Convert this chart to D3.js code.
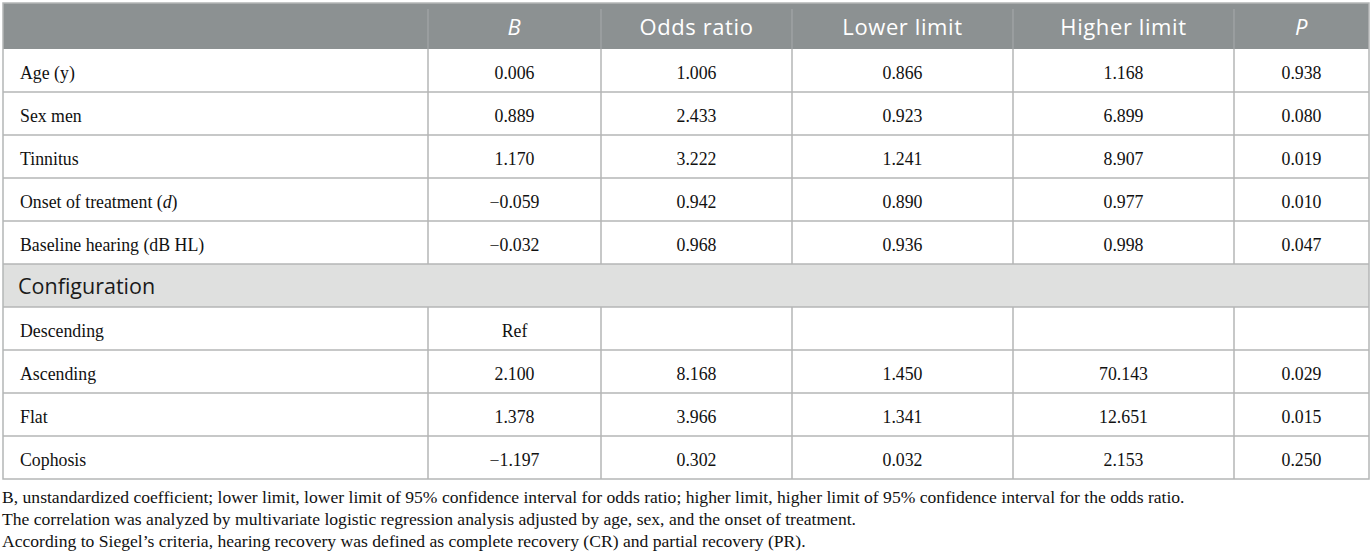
<!DOCTYPE html>
<html><head><meta charset="utf-8">
<script src="https://cdn.jsdelivr.net/npm/d3@7"></script>
<style>
html,body{margin:0;padding:0;background:#fff;}
svg{display:block;}
</style></head>
<body><svg id="c" width="1372" height="560"></svg>
<script>
// ---- data ----
const headers = ["", "B", "Odds ratio", "Lower limit", "Higher limit", "P"];
const rowLabels = ["Age (y)", "Sex men", "Tinnitus", "Onset of treatment (d)", "Baseline hearing (dB HL)",
  "Configuration", "Descending", "Ascending", "Flat", "Cophosis"];
const coefB =       ["0.006", "0.889", "1.170", "\u22120.059", "\u22120.032", null, "Ref", "2.100", "1.378", "\u22121.197"];
const oddsRatio =   ["1.006", "2.433", "3.222", "0.942", "0.968", null, "", "8.168", "3.966", "0.302"];
const lowerLimit =  ["0.866", "0.923", "1.241", "0.890", "0.936", null, "", "1.450", "1.341", "0.032"];
const higherLimit = ["1.168", "6.899", "8.907", "0.977", "0.998", null, "", "70.143", "12.651", "2.153"];
const pValue =      ["0.938", "0.080", "0.019", "0.010", "0.047", null, "", "0.029", "0.015", "0.250"];
const footnotes = [
  "B, unstandardized coefficient; lower limit, lower limit of 95% confidence interval for odds ratio; higher limit, higher limit of 95% confidence interval for the odds ratio.",
  "The correlation was analyzed by multivariate logistic regression analysis adjusted by age, sex, and the onset of treatment.",
  "According to Siegel\u2019s criteria, hearing recovery was defined as complete recovery (CR) and partial recovery (PR)."
];

// ---- layout ----
const svg = d3.select("#c");
const colEdges = [3, 428, 601, 792, 1013, 1234, 1369];
const colX = d3.scaleOrdinal().domain(d3.range(6)).range(colEdges.slice(0, 6));
const colW = i => colEdges[i + 1] - colEdges[i];
const headTop = 3, headBottom = 49, rowH = 43;
const rowY = d3.scaleBand().domain(d3.range(rowLabels.length))
  .range([headBottom, headBottom + rowH * rowLabels.length]).padding(0);
const tableBottom = headBottom + rowH * rowLabels.length;
const sans = "'Open Sans','Noto Sans',sans-serif";
const serif = "'Liberation Serif','Times New Roman',serif";
const lineCol = "#b4b6b6";
const bodySize = 17.8;

// header bg
svg.append("rect").attr("x", colEdges[0]).attr("y", headTop)
  .attr("width", colEdges[6] - colEdges[0]).attr("height", headBottom - headTop).attr("fill", "#8c9192");

// header dividers
svg.selectAll("line.hdiv").data(d3.range(1, 6)).join("line")
  .attr("x1", d => colEdges[d]).attr("x2", d => colEdges[d])
  .attr("y1", headTop + 6).attr("y2", headBottom)
  .attr("stroke", "#a3a7a8").attr("stroke-width", 1.2);

// header text
svg.selectAll("text.h").data(headers).join("text")
  .attr("x", (d, i) => colX(i) + colW(i) / 2).attr("y", 35)
  .attr("text-anchor", "middle").attr("fill", "#fff")
  .attr("font-family", sans).attr("font-size", 22).attr("letter-spacing", 0.6)
  .attr("font-style", d => (d === "B" || d === "P") ? "italic" : "normal")
  .text(d => d);

const cols = [coefB, oddsRatio, lowerLimit, higherLimit, pValue];

rowLabels.forEach((lab, r) => {
  const y = rowY(r);
  const isGroup = coefB[r] === null;
  if (isGroup) {
    svg.append("rect").attr("x", colEdges[0]).attr("y", y)
      .attr("width", colEdges[6] - colEdges[0]).attr("height", rowH).attr("fill", "#dfe0df");
    svg.append("text").attr("x", 18).attr("y", y + rowH / 2 + 8.5)
      .attr("font-family", sans).attr("font-size", 21.5).attr("fill", "#1a1a1a").text(lab);
  } else {
    svg.selectAll(null).data(d3.range(1, 6)).join("line")
      .attr("x1", d => colEdges[d]).attr("x2", d => colEdges[d])
      .attr("y1", y).attr("y2", y + rowH)
      .attr("stroke", lineCol).attr("stroke-width", 1.5);
    const t = svg.append("text").attr("x", 20).attr("y", y + rowH / 2 + 8)
      .attr("font-family", serif).attr("font-size", bodySize).attr("fill", "#111");
    const m = lab.match(/^(.*\()d(\))$/);
    if (m) {
      t.append("tspan").text(m[1]);
      t.append("tspan").attr("font-style", "italic").text("d");
      t.append("tspan").text(m[2]);
    } else t.text(lab);
    cols.forEach((arr, c) => {
      svg.append("text").attr("x", colX(c + 1) + colW(c + 1) / 2).attr("y", y + rowH / 2 + 8)
        .attr("text-anchor", "middle").attr("font-family", serif).attr("font-size", bodySize).attr("fill", "#111")
        .text(arr[r]);
    });
  }
});

// horizontal lines
svg.selectAll("line.hr").data(d3.range(1, rowLabels.length)).join("line")
  .attr("x1", colEdges[0]).attr("x2", colEdges[6])
  .attr("y1", d => rowY(d)).attr("y2", d => rowY(d))
  .attr("stroke", lineCol).attr("stroke-width", 1.5);

// outer border
svg.append("rect").attr("x", colEdges[0]).attr("y", headTop)
  .attr("width", colEdges[6] - colEdges[0]).attr("height", tableBottom - headTop)
  .attr("fill", "none").attr("stroke", lineCol).attr("stroke-width", 1.5);

// footnotes
svg.selectAll("text.fn").data(footnotes).join("text")
  .attr("x", 2).attr("y", (d, i) => 503 + i * 22)
  .attr("font-family", serif).attr("font-size", 17.6).attr("fill", "#111")
  .text(d => d);
</script></body></html>
